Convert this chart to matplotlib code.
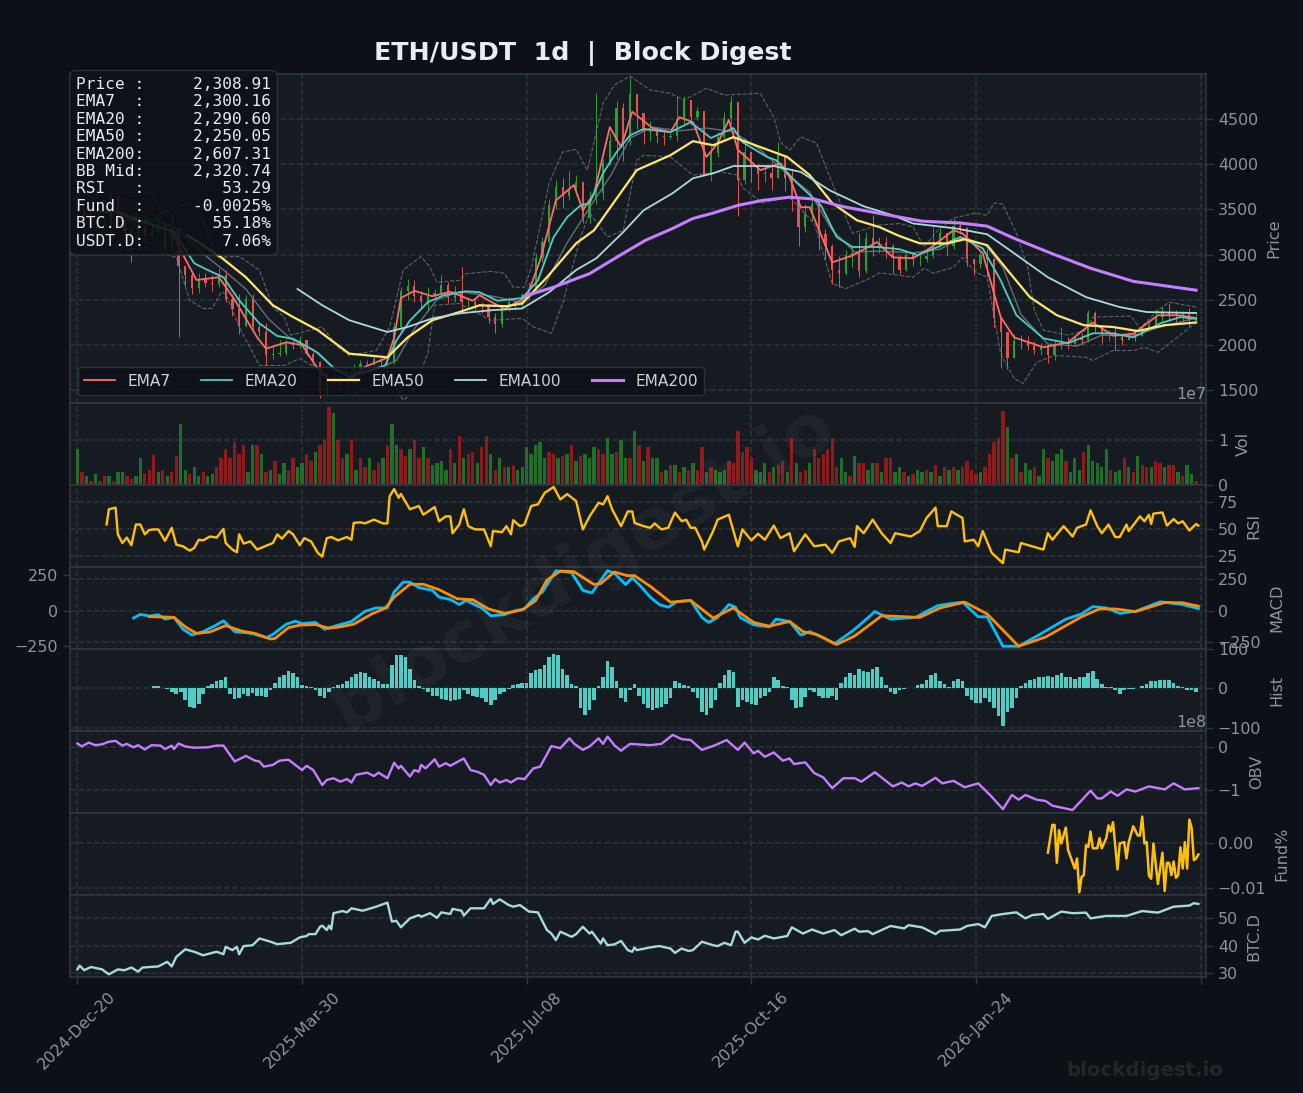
"""
ETH/USDT daily indicator panel, values read off the reference chart
"""
import matplotlib
matplotlib.use('Agg')
import matplotlib.pyplot as plt

tick_idx = [0, 100, 200, 300, 400, 500]
tick_labels = ['2024-Dec-20', '2025-Mar-30', '2025-Jul-08', '2025-Oct-16', '2026-Jan-24', '']

# candles every third day, in dollars
closes = [3480, 3420, 3330, 3350, 3350, 3650, 3380, 3260, 3140, 3310,
          3220, 3240, 3320, 3080, 3300, 2880, 2780, 2630, 2730, 2690,
          2680, 2780, 2510, 2400, 2215, 2510, 2200, 2140, 1890, 1900,
          1910, 2010, 2000, 2060, 1905, 1810, 1470, 1640, 1620, 1590,
          1590, 1755, 1790, 1800, 1845, 1810, 1810, 2200, 2600, 2650,
          2540, 2480, 2540, 2580, 2660, 2520, 2600, 2480, 2480, 2440,
          2430, 2310, 2230, 2410, 2480, 2440, 2550, 2620, 2960, 3140,
          3550, 3750, 3650, 3710, 3800, 3400, 3600, 3680, 4010, 4260,
          4620, 4250, 4780, 4570, 4360, 4390, 4310, 4300, 4310, 4500,
          4710, 4520, 4590, 3880, 4120, 4300, 4510, 4690, 3830, 4130,
          3990, 3890, 3900, 3850, 4100, 3850, 3600, 3310, 3450, 3560,
          3230, 3100, 2830, 2800, 3000, 3020, 2820, 3180, 3100, 3130,
          3100, 2960, 2830, 3000, 2950, 2950, 2980, 3100, 3240, 3100,
          3320, 3300, 2950, 2900, 3000, 2950, 2300, 2150, 1860, 2050,
          2040, 1990, 1950, 1980, 1890, 2000, 2020, 2010, 2080, 2060,
          2350, 2200, 2120, 2150, 2090, 2060, 2120, 2100, 2190, 2220,
          2310, 2350, 2330, 2320, 2340, 2270, 2309]
highs = [3720, 3540, 3500, 3450, 3430, 3680, 3740, 3340, 3290, 3450,
         3430, 3340, 3420, 3350, 3440, 3240, 2850, 2800, 2800, 2800,
         2780, 2850, 2830, 2560, 2560, 2550, 2560, 2260, 2240, 1980,
         2060, 2060, 2060, 2100, 2050, 1920, 1820, 1690, 1680, 1660,
         1620, 1790, 1830, 1840, 1880, 1860, 1830, 2250, 2640, 2730,
         2720, 2600, 2640, 2620, 2780, 2700, 2650, 2860, 2520, 2510,
         2480, 2450, 2350, 2440, 2530, 2500, 2580, 2700, 3020, 3200,
         3620, 3830, 3850, 3930, 3880, 3800, 3700, 4790, 4060, 4350,
         4700, 4680, 4960, 4640, 4490, 4480, 4400, 4380, 4350, 4760,
         4760, 4690, 4630, 4480, 4200, 4360, 4580, 4760, 4400, 4290,
         4100, 4010, 3980, 4030, 4250, 4100, 3950, 3620, 3560, 3640,
         3600, 3280, 3120, 2980, 3050, 3090, 3240, 3250, 3440, 3200,
         3200, 3120, 3000, 3030, 3020, 3010, 3040, 3310, 3300, 3230,
         3410, 3370, 3310, 2950, 3030, 3060, 2960, 2320, 2150, 2120,
         2110, 2100, 2040, 2020, 2010, 2060, 2200, 2090, 2110, 2130,
         2390, 2380, 2190, 2170, 2190, 2120, 2150, 2170, 2210, 2260,
         2400, 2420, 2470, 2390, 2380, 2410, 2340]
lows = [3400, 3300, 3280, 3280, 3320, 3340, 3340, 3220, 2920, 3140,
        3140, 3180, 3250, 3020, 3050, 2090, 2650, 2560, 2580, 2640,
        2600, 2640, 2480, 2320, 2120, 2200, 2170, 2100, 1780, 1850,
        1880, 1890, 1960, 1970, 1880, 1780, 1410, 1460, 1570, 1560,
        1540, 1570, 1740, 1770, 1780, 1770, 1770, 1790, 2150, 2500,
        2480, 2400, 2380, 2500, 2550, 2470, 2480, 2380, 2420, 2390,
        2350, 2240, 2130, 2200, 2380, 2400, 2420, 2500, 2600, 2920,
        3120, 3500, 3520, 3600, 3660, 3350, 3350, 3560, 3600, 3990,
        4060, 4040, 4210, 4390, 4220, 4260, 4230, 4210, 4280, 4260,
        4450, 4430, 4490, 3980, 3820, 4080, 4280, 4450, 3430, 3780,
        3800, 3720, 3800, 3720, 3850, 3700, 3480, 3100, 3250, 3370,
        3050, 2950, 2680, 2640, 2780, 2860, 2750, 2800, 2990, 3020,
        2960, 2790, 2790, 2820, 2880, 2880, 2920, 2960, 3080, 3000,
        3060, 3230, 2880, 2780, 2850, 2760, 2200, 1750, 1740, 1860,
        1960, 1940, 1900, 1890, 1800, 1830, 1960, 1960, 1990, 2000,
        2030, 2150, 2020, 2050, 1950, 2000, 2070, 2050, 2100, 2170,
        2240, 2270, 2270, 2250, 2270, 2210, 2290]

# (day index, value)
ema7 = [(6, 3480), (19, 3470), (31, 3350), (42, 3260), (47, 3000), (53, 2720), (63, 2750), (70, 2500),
        (80, 2085), (84, 1960), (93, 2030), (100, 2000), (106, 1775), (112, 1620), (120, 1610), (128, 1760),
        (138, 1860), (141, 2080), (144, 2520), (150, 2600), (158, 2540), (166, 2590), (176, 2490), (179, 2550),
        (183, 2495), (190, 2400), (200, 2530), (206, 2940), (213, 3600), (221, 3770), (225, 3490), (230, 3680),
        (237, 4410), (242, 4190), (247, 4580), (256, 4400), (264, 4355), (268, 4520), (274, 4465), (280, 4080),
        (285, 4230), (290, 4490), (294, 4160), (304, 3935), (313, 4010), (317, 3860), (322, 3525), (326, 3525),
        (336, 2915), (345, 2990), (356, 3140), (363, 2970), (372, 2960), (380, 3080), (390, 3270), (394, 3235),
        (403, 3015), (411, 2310), (417, 2085), (430, 1975), (441, 2030), (452, 2250), (461, 2105), (470, 2125),
        (481, 2330), (490, 2330), (498, 2300)]
ema20 = [(19, 3440), (31, 3350), (43, 3250), (52, 2905), (58, 2830), (65, 2750), (72, 2495), (81, 2240),
         (89, 2100), (96, 2070), (107, 1915), (114, 1750), (121, 1650), (130, 1720), (137, 1775), (142, 2050),
         (148, 2270), (156, 2475), (163, 2550), (173, 2595), (179, 2585), (187, 2490), (198, 2520), (205, 2715),
         (212, 3195), (218, 3415), (224, 3545), (228, 3570), (234, 3900), (240, 4135), (246, 4320), (252, 4390),
         (264, 4355), (273, 4465), (282, 4290), (292, 4400), (296, 4245), (307, 4080), (311, 4045), (320, 3800),
         (331, 3545), (338, 3195), (345, 3085), (356, 3085), (366, 3060), (374, 2995), (383, 3085), (393, 3195),
         (403, 3070), (411, 2715), (418, 2330), (430, 2075), (441, 2020), (452, 2130), (461, 2130), (470, 2085),
         (482, 2240), (491, 2310), (498, 2290)]
ema50 = [(49, 3215), (64, 2970), (75, 2750), (87, 2440), (96, 2310), (107, 2165), (121, 1905), (138, 1865),
         (147, 2085), (158, 2275), (170, 2365), (179, 2440), (191, 2430), (198, 2460), (209, 2750), (222, 3125),
         (230, 3270), (242, 3690), (249, 3935), (264, 4100), (274, 4255), (283, 4210), (292, 4300), (304, 4190),
         (316, 4080), (326, 3880), (336, 3570), (347, 3380), (357, 3305), (366, 3205), (375, 3125), (387, 3125),
         (395, 3170), (405, 3105), (414, 2830), (424, 2530), (436, 2330), (448, 2220), (461, 2200), (472, 2155),
         (484, 2220), (498, 2250)]
ema100 = [(98, 2620), (109, 2440), (121, 2275), (138, 2145), (147, 2200), (158, 2295), (170, 2350), (184, 2385),
          (198, 2405), (210, 2585), (222, 2830), (231, 2960), (243, 3250), (252, 3490), (265, 3680), (274, 3845),
          (283, 3900), (292, 3980), (310, 3980), (322, 3915), (335, 3710), (350, 3535), (363, 3435), (372, 3345),
          (391, 3290), (405, 3225), (417, 3015), (432, 2750), (449, 2530), (464, 2420), (476, 2365), (498, 2355)]
ema200 = [(199, 2540), (212, 2640), (228, 2790), (243, 3015), (253, 3160), (265, 3290), (274, 3400), (283, 3460),
          (294, 3545), (305, 3600), (317, 3635), (328, 3615), (340, 3535), (354, 3470), (366, 3415), (376, 3370),
          (393, 3350), (405, 3315), (417, 3180), (435, 3000), (451, 2850), (470, 2705), (498, 2607)]
bb_upper = [(19, 3690), (34, 3680), (37, 3460), (49, 3570), (56, 3380), (62, 2970), (72, 2980), (81, 2830),
            (87, 2420), (92, 2310), (95, 2110), (109, 2200), (116, 1975), (121, 1885), (133, 1940), (139, 2200),
            (145, 2830), (153, 2980), (157, 2860), (160, 2695), (170, 2715), (173, 2790), (184, 2815), (190, 2795),
            (194, 2640), (199, 2640), (202, 2850), (210, 3790), (216, 4135), (222, 4165), (227, 3935), (234, 4675),
            (239, 4875), (246, 4975), (255, 4820), (264, 4785), (270, 4710), (280, 4840), (288, 4765), (304, 4785),
            (310, 4520), (313, 4245), (317, 4155), (322, 4300), (329, 4235), (336, 3790), (345, 3235), (356, 3325),
            (366, 3345), (372, 3305), (377, 3085), (383, 3270), (390, 3405), (400, 3460), (405, 3435), (408, 3570),
            (412, 3560), (418, 3235), (423, 2860), (426, 2385), (430, 2165), (441, 2110), (449, 2165), (452, 2310),
            (469, 2320), (473, 2185), (481, 2385), (486, 2475), (498, 2420)]
bb_lower = [(19, 3050), (30, 3080), (44, 2970), (50, 2495), (56, 2405), (60, 2405), (64, 2585), (66, 2570),
            (72, 2200), (81, 1775), (92, 1775), (99, 1850), (107, 1740), (111, 1445), (121, 1445), (130, 1520),
            (137, 1755), (145, 1390), (149, 1465), (156, 1910), (159, 2440), (170, 2460), (184, 2275), (198, 2295),
            (203, 2200), (211, 2130), (216, 2460), (224, 3195), (228, 3460), (236, 3195), (243, 3270), (249, 4045),
            (252, 4100), (264, 4080), (274, 3880), (286, 3915), (294, 3880), (296, 3745), (305, 3570), (317, 3635),
            (328, 3345), (336, 2680), (342, 2625), (353, 2740), (357, 2800), (372, 2750), (377, 2850), (381, 2795),
            (390, 2860), (394, 2970), (400, 2805), (405, 2750), (411, 1905), (417, 1630), (421, 1575), (427, 1810),
            (435, 1885), (449, 1865), (452, 1830), (461, 1940), (470, 1940), (475, 1975), (481, 1920), (488, 2055),
            (498, 2250)]
bb_mid = [(19, 3370), (35, 3380), (45, 3280), (55, 3030), (65, 2830), (75, 2620), (85, 2290), (95, 2070),
          (105, 1950), (115, 1720), (125, 1680), (135, 1750), (142, 1830), (150, 2180), (160, 2500), (170, 2590),
          (185, 2540), (198, 2470), (208, 2660), (218, 3130), (228, 3520), (238, 3900), (246, 4290), (256, 4410),
          (268, 4370), (280, 4400), (292, 4360), (304, 4160), (316, 3890), (326, 3690), (336, 3270), (346, 3030),
          (358, 3040), (372, 3020), (384, 3060), (394, 3190), (404, 3110), (412, 2860), (420, 2340), (432, 2010),
          (445, 1990), (456, 2110), (470, 2100), (482, 2200), (498, 2300)]

# volume every second day, in units of 1e7
volume = [0.8, 0.3, 0.2, 0.1, 0.25, 0.1, 0.2, 0.2, 0.1, 0.3,
          0.3, 0.2, 0.15, 0.2, 0.6, 0.25, 0.35, 0.67, 0.3, 0.35,
          0.2, 0.3, 0.65, 1.35, 0.35, 0.25, 0.4, 0.2, 0.3, 0.2,
          0.25, 0.4, 0.6, 0.8, 0.6, 0.95, 0.7, 0.9, 0.3, 0.9,
          0.9, 0.7, 0.3, 0.35, 0.55, 0.25, 0.5, 0.35, 0.6, 0.4,
          0.5, 0.7, 0.55, 0.75, 0.9, 1.0, 1.73, 1.6, 1.0, 0.6,
          0.7, 1.0, 0.35, 0.6, 0.4, 0.6, 0.35, 0.5, 0.6, 0.9,
          1.35, 0.9, 0.8, 0.65, 0.8, 1.0, 0.6, 0.85, 0.6, 0.45,
          0.5, 0.55, 0.35, 0.8, 0.5, 1.1, 0.6, 0.7, 0.75, 0.5,
          0.85, 1.1, 0.7, 0.35, 0.6, 0.4, 0.4, 0.45, 0.35, 0.4,
          0.85, 0.7, 0.9, 0.95, 0.6, 0.75, 0.7, 0.6, 0.65, 0.7,
          0.9, 0.55, 0.65, 0.7, 0.6, 0.85, 0.8, 0.7, 1.05, 0.7,
          0.75, 1.0, 0.6, 0.6, 1.2, 0.9, 0.55, 0.85,
          0.6, 0.6, 0.3, 0.35, 0.45, 0.45, 0.3, 0.4, 0.35, 0.5,
          0.35, 0.85, 0.3, 0.4, 0.35, 0.3, 0.35, 0.55, 0.5, 1.2,
          0.75, 0.85, 0.6, 0.35, 0.3, 0.5, 0.3, 0.4, 0.45, 0.55,
          0.3, 1.05, 0.5, 0.3, 0.35, 0.5, 0.8, 0.6, 0.7, 0.8,
          1.05, 0.4, 0.6, 0.3, 0.2, 0.65, 0.5, 0.5, 0.35, 0.5,
          0.5, 0.3, 0.6, 0.6, 0.3, 0.4, 0.3, 0.2, 0.25, 0.35,
          0.3, 0.35, 0.3, 0.45, 0.2, 0.4, 0.35, 0.4, 0.35, 0.4,
          0.55, 0.35, 0.25, 0.3, 0.4, 0.7, 0.95, 1.05, 1.65, 1.3,
          0.6, 0.7, 0.3, 0.5, 0.35, 0.4, 0.2, 0.8, 0.6, 0.55,
          0.7, 0.8, 0.55, 0.3, 0.6, 0.35, 0.75, 0.9, 0.55, 0.5,
          0.4, 0.8, 0.35, 0.3, 0.35, 0.6, 0.4, 0.3, 0.65, 0.45,
          0.4, 0.4, 0.55, 0.5, 0.4, 0.45, 0.45, 0.3, 0.2, 0.45,
          0.25, 0.1]
volume_dir = ('grgrgrrgrg' 'grrggrrrgr' 'grrggrggrg' 'grrrrrrrgg' 'rgrgrggrrg'
              'grrgrrrgrr' 'grgrrgrrgr' 'ggrrgrrgrg' 'gggrgrgrrg' 'rrgrgrgrgg'
              'gggggrrgrg' 'rgrgggrrgg' 'rggrgrgr' 'ggrgrgrgrg' 'rrgrgggrrr'
              'rrrgggrgrr' 'grgrrgrrrr' 'rrggrgrrgg' 'rgrrggrgrg' 'grgrgrgrgr'
              'rrrgrrrrrg' 'rgrggrggrg' 'ggrgggrggg' 'ggrggrgrgr' 'rgrrgrrgrg'
              'gr')

rsi = [(13, 54), (14, 68), (17, 69.5), (18, 45), (20, 37), (22, 42), (24, 35), (26, 54), (28, 54), (30, 45),
       (32, 49), (34, 49.5), (36, 49.5), (39, 39), (42, 51), (44, 35.5), (47, 34), (50, 30), (52, 32.5), (54, 40),
       (56, 39.5), (59, 43), (62, 42), (65, 50), (66, 37), (69, 31), (71, 28.5), (72, 45), (74, 36.5), (77, 38.5),
       (80, 31), (84, 34.5), (87, 37), (89, 45), (91, 41), (94, 48), (96, 45), (99, 35), (101, 41.5), (104, 38.5),
       (107, 28), (109, 24.5), (111, 41.5), (113, 42.5), (116, 39.5), (120, 42.5), (122, 40), (123, 55.5), (126, 56),
       (128, 55), (132, 58.5), (136, 55), (138, 55), (139, 80), (141, 86.5), (143, 78.5), (144, 82), (148, 68),
       (152, 71), (154, 63), (159, 70), (161, 57), (164, 61.5), (166, 61.5), (167, 46), (170, 54), (172, 68),
       (174, 52.5), (177, 49.5), (181, 49.5), (184, 34), (185, 48), (189, 47), (191, 52.5), (193, 45), (194, 58),
       (197, 52.5), (199, 54), (202, 71), (205, 72.5), (208, 83), (212, 88.5), (215, 77), (218, 82), (222, 75.5),
       (225, 49.5), (228, 61.5), (232, 74), (234, 72.5), (236, 80), (238, 68), (242, 52.5), (245, 66), (247, 66),
       (248, 55.5), (252, 52.5), (255, 51), (257, 55), (260, 49.5), (263, 51), (266, 65), (269, 57), (271, 58.5),
       (273, 51), (275, 51), (278, 38.5), (279, 31), (283, 48), (285, 58.5), (290, 63), (291, 55.5), (294, 34),
       (296, 49.5), (300, 39.5), (303, 45.5), (306, 40), (310, 53), (313, 41.5), (317, 46), (319, 29.5), (324, 45),
       (328, 34), (333, 35.5), (336, 28), (339, 38.5), (344, 41.5), (346, 33.5), (347, 52.5), (350, 46), (354, 58.5),
       (358, 46), (362, 37), (364, 46), (371, 43), (375, 48), (378, 60), (382, 69.5), (383, 52.5), (387, 52.5),
       (389, 66), (394, 60), (395, 38.5), (399, 40), (401, 34), (403, 48), (407, 28), (412, 18.5), (413, 31),
       (419, 28.5), (420, 37), (430, 31), (432, 46), (434, 40), (439, 52.5), (443, 43), (445, 51), (449, 54),
       (451, 67), (454, 52.5), (456, 46), (459, 54), (462, 42.5), (464, 42.5), (467, 54), (468, 48), (473, 61.5),
       (475, 57), (477, 63), (478, 54.5), (479, 64), (483, 65), (485, 53), (488, 59), (490, 55), (492, 57),
       (495, 48.5), (498, 54.5), (499, 53)]

macd_line = [(25, -56), (28, -27), (32, -40), (36, -30), (39, -65), (43, -51), (47, -145), (51, -191), (56, -164),
             (62, -110), (65, -78), (70, -164), (75, -172), (78, -180), (84, -212), (87, -186), (93, -105), (97, -81),
             (100, -100), (106, -91), (110, -145), (115, -118), (122, -83), (128, -3), (133, 24), (138, 24), (141, 151),
             (145, 229), (148, 229), (152, 186), (158, 164), (161, 110), (166, 91), (170, 51), (173, 83), (180, 24),
             (184, -38), (190, -30), (195, 3), (199, 16), (203, 97), (207, 151), (213, 320), (220, 304), (225, 164),
             (229, 143), (236, 320), (239, 299), (244, 210), (247, 264), (251, 191), (255, 110), (259, 51), (263, 30),
             (267, 75), (273, 83), (278, -51), (281, -91), (285, -51), (290, 51), (293, 30), (295, -51), (301, -110),
             (308, -126), (311, -65), (317, -83), (322, -191), (326, -164), (332, -212), (337, -261), (345, -159),
             (349, -100), (355, -5), (362, -65), (373, -51), (383, 43), (388, 56), (394, 70), (401, -46), (405, -46),
             (412, -280), (419, -280), (429, -180), (440, -65), (447, -24), (452, 35), (458, 24), (464, -19), (471, -3),
             (482, 73), (492, 51), (499, 19)]
macd_signal = [(32, -46), (39, -48), (43, -51), (48, -126), (53, -178), (59, -167), (66, -116), (73, -159), (79, -178),
               (86, -223), (88, -218), (94, -132), (99, -113), (106, -108), (112, -137), (117, -126), (123, -105),
               (131, -24), (137, 22), (141, 110), (148, 212), (154, 212), (161, 169), (169, 97), (176, 89), (183, 16),
               (190, -19), (198, 8), (204, 83), (209, 245), (215, 317), (221, 312), (230, 210), (233, 218), (239, 309),
               (245, 280), (248, 280), (255, 196), (264, 70), (273, 83), (283, -56), (292, 24), (301, -91), (308, -121),
               (317, -83), (323, -164), (329, -186), (338, -266), (346, -199), (358, -38), (375, -51), (384, 24),
               (395, 70), (405, -24), (419, -280), (431, -207), (447, -46), (455, 16), (462, 16), (471, -5), (484, 67),
               (492, 65), (499, 38)]

# histogram every second day from day 32
macd_hist = [2, 5, 6, 2, -2, -10, -15, -10, -30, -48, -50, -40, -15, 5, 12, 18, 22, 28, -15, -28,
             -25, -15, -18, -12, -20, -20, -22, -5, 15, 28, 35, 43, 38, 28, 8, 6, 4, -4, -18, -24,
             -10, 3, 8, 12, 18, 28, 36, 42, 38, 28, 25, 20, 12, 10, 60, 85, 85, 80, 50, 22,
             5, -2, -10, -20, -18, -28, -30, -32, -30, -28, -3, -15, -18, -22, -25, -35, -42, -30, -15, -8,
             -2, 8, 12, 15, 15, 40, 48, 50, 60, 80, 88, 85, 50, 35, 12, 5, -50, -68, -55, -30,
             5, 30, 70, 55, 20, -25, -35, -5, 10, -20, -40, -50,
             -55, -50, -48, -40, -25, 18, 15, 8, 5, -8, -25, -60, -68, -50, -30, 15, 35, 48, 42,
             -47, -30, -35, -40, -42, -25, -18, -10, 28, 22, 6, 3, -30, -50, -48, -22, -5, -8, -18, -25,
             -25, -18, -30, 15, 30, 38, 35, 50, 45, 42, 50, 55, 30, 8, -8, -15, -5, -2, 2, 2,
             8, 12, 22, 35, 40, 20, 10, 3, 20, 25, 20, -20, -30, -38, -38, -25, -35, -50, -70, -95,
             -60, -50, -25, 5, 15, 22, 25, 28, 30, 32, 30, 35, 38, 30, 28, 25, 28, 30, 38, 45,
             25, 10, 3, 3, -5, -15, -5, -2, -1, 1, 5, 12, 18, 20, 22, 22, 22, 15, 5, 3,
             -3, -5, -10]

# on balance volume, in units of 1e8
obv = [(0, 0.09), (2, 0.02), (5, 0.11), (8, 0.05), (11, 0.07), (14, 0.13), (17, 0.15), (20, 0.04), (22, 0.08), (25, 0),
       (27, 0.05), (30, -0.05), (33, 0.05), (37, 0.04), (39, -0.04), (42, 0.04), (43, -0.04), (45, 0.09), (48, 0.02),
       (52, -0.01), (58, 0), (62, 0.04), (65, 0.04), (70, -0.33), (75, -0.2), (79, -0.31), (81, -0.33), (83, -0.45),
       (87, -0.41), (90, -0.31), (94, -0.29), (100, -0.53), (102, -0.43), (105, -0.53), (109, -0.88), (111, -0.76),
       (114, -0.72), (117, -0.8), (120, -0.74), (122, -0.82), (124, -0.64), (129, -0.59), (132, -0.67), (134, -0.59),
       (138, -0.72), (141, -0.36), (143, -0.49), (144, -0.43), (148, -0.68), (150, -0.53), (152, -0.57), (153, -0.41),
       (155, -0.49), (159, -0.28), (161, -0.45), (164, -0.37), (166, -0.43), (172, -0.26), (175, -0.53), (178, -0.57),
       (181, -0.64), (184, -0.88), (186, -0.74), (188, -0.82), (191, -0.76), (193, -0.82), (196, -0.72), (199, -0.74),
       (203, -0.49), (206, -0.45), (211, 0.03), (215, -0.02), (219, 0.21), (221, 0.09), (225, -0.06), (228, 0.02),
       (232, 0.21), (234, 0.08), (236, 0.25), (239, 0.05), (242, -0.08), (246, 0.08), (255, 0.05), (260, 0.08),
       (265, 0.29), (269, 0.19), (273, 0.17), (278, -0.06), (284, 0.05), (289, 0.17), (294, -0.06), (297, 0.11),
       (301, -0.14), (303, -0.08), (306, -0.22), (310, -0.12), (314, -0.31), (317, -0.26), (319, -0.39), (324, -0.35),
       (328, -0.6), (332, -0.7), (336, -0.95), (341, -0.72), (346, -0.72), (349, -0.8), (355, -0.58), (363, -0.91),
       (367, -0.82), (370, -0.91), (373, -0.84), (376, -0.9), (382, -0.71), (385, -0.84), (390, -0.78), (395, -0.93),
       (401, -0.84), (407, -1.15), (412, -1.44), (416, -1.11), (419, -1.22), (422, -1.11), (427, -1.22), (431, -1.25),
       (434, -1.36), (443, -1.46), (451, -1.01), (454, -1.19), (456, -1.19), (460, -1.03), (463, -1.13), (467, -0.98),
       (471, -1.03), (477, -0.91), (484, -0.98), (488, -0.84), (493, -0.98), (499, -0.95)]

funding = [(432, -0.0021), (434, 0.0042), (435, 0.0042), (436, -0.0044), (437, 0.0030), (438, 0), (440, 0.0036),
           (441, -0.0015), (444, -0.0057), (445, -0.0034), (446, -0.0111), (447, -0.0076), (448, -0.0072),
           (449, -0.0004), (450, -0.0008), (451, 0.0027), (452, -0.0011), (454, -0.0011), (455, 0.0012), (456, -0.0011),
           (458, 0.0012), (459, 0.0041), (460, 0.0027), (461, 0.0048), (463, -0.0059), (464, 0), (466, 0.0003),
           (467, -0.0034), (468, 0.0003), (470, 0.0039), (472, 0.0018), (473, 0.0018), (474, 0.0061), (475, 0),
           (476, 0.0003), (477, -0.0073), (478, -0.008), (479, 0), (481, -0.0092), (483, -0.0021), (484, -0.0108),
           (485, -0.0044), (486, -0.0044), (487, -0.0072), (488, -0.0041), (489, -0.0078), (490, -0.0072),
           (491, -0.0009), (492, -0.0057), (493, 0.0003), (494, -0.0057), (495, 0.0054), (496, 0.0035), (497, -0.0038),
           (498, -0.0034), (499, -0.0025)]

btc_dom = [(0, 31.2), (1, 32.6), (3, 30.9), (6, 32.1), (11, 31.2), (14, 29.4), (18, 31.2), (21, 30.9), (24, 31.9),
           (27, 30.4), (29, 31.9), (36, 32.3), (40, 34), (42, 32.3), (44, 35.8), (48, 38.6), (52, 37.7), (56, 36.4),
           (60, 37.3), (62, 37.7), (65, 36.8), (66, 39.5), (69, 38.3), (71, 39.5), (72, 36.8), (74, 39.8), (78, 40.1),
           (81, 42.6), (86, 41.4), (89, 40.5), (95, 41), (99, 43), (102, 43.5), (103, 44.2), (106, 44.2), (108, 46.9),
           (109, 47.3), (111, 45.7), (112, 47.3), (113, 46), (114, 51.9), (118, 52.7), (120, 52.2), (122, 53.7),
           (127, 52.8), (133, 54.3), (138, 55.8), (140, 48.8), (142, 49.1), (144, 46.7), (148, 50), (152, 51.2),
           (153, 50.6), (157, 51.9), (160, 50.2), (162, 52.2), (166, 51.6), (167, 53.5), (171, 52.8), (172, 51),
           (175, 53.7), (181, 53.7), (184, 57.2), (185, 55.3), (188, 57), (192, 54.9), (194, 54.3), (197, 54.9),
           (201, 52.5), (205, 52.2), (209, 45.7), (211, 44.4), (213, 42), (215, 45.1), (220, 43.2), (222, 44.2),
           (225, 46.9), (228, 44.4), (229, 45.1), (233, 40.7), (234, 42.6), (236, 40.1), (239, 40.4), (242, 41.7),
           (245, 38.3), (247, 37.7), (248, 39.3), (249, 38.3), (255, 39.3), (259, 39.8), (264, 38.9), (266, 37.3),
           (269, 38.9), (272, 38), (274, 38.3), (278, 41.4), (283, 40.1), (285, 39.8), (288, 41), (291, 40.1),
           (293, 45.1), (294, 45.1), (297, 41), (300, 43), (303, 42.2), (306, 43.6), (310, 42.6), (316, 43.5),
           (318, 46.7), (323, 44.4), (327, 45.9), (332, 44.4), (337, 45.7), (340, 43.8), (346, 46.2), (348, 45.1),
           (352, 45.3), (354, 44.2), (362, 47.2), (368, 46.3), (370, 47.5), (376, 46.7), (382, 44.2), (384, 45.4),
           (393, 45.9), (396, 47.2), (401, 47.9), (404, 46.7), (407, 50.9), (412, 51.6), (418, 52.2), (422, 50),
           (425, 51.2), (430, 51.6), (432, 49.8), (438, 52.5), (443, 51.9), (449, 52.1), (451, 50), (458, 50.9),
           (467, 50.9), (474, 52.7), (481, 52.1), (488, 54.3), (495, 54.7), (497, 55.6), (499, 55.3)]

info_text = """Price :     2,308.91
EMA7  :     2,300.16
EMA20 :     2,290.60
EMA50 :     2,250.05
EMA200:     2,607.31
BB Mid:     2,320.74
RSI   :        53.29
Fund  :     -0.0025%
BTC.D :       55.18%
USDT.D:        7.06%"""

FIG_BG = '#0d1117'
AX_BG = '#161b22'
EDGE = '#30363d'
MUTED = '#8b949e'


def xy(points):
    return [p[0] for p in points], [p[1] for p in points]


fig = plt.figure(figsize=(13.03, 10.93), dpi=100, facecolor=FIG_BG)
gs = fig.add_gridspec(8, 1, height_ratios=[329.3, 82, 81.7, 82, 82, 82, 82, 82.3], hspace=0,
                      left=70 / 1303, right=1206 / 1303, top=1 - 74 / 1093, bottom=1 - 977.3 / 1093)
axes = [fig.add_subplot(gs[0])]
for n in range(1, 8):
    axes.append(fig.add_subplot(gs[n], sharex=axes[0]))
ax_price, ax_vol, ax_rsi, ax_macd, ax_hist, ax_obv, ax_fund, ax_btc = axes

panel_labels = ['Price', 'Vol', 'RSI', 'MACD', 'Hist', 'OBV', 'Fund%', 'BTC.D']
for ax, name in zip(axes, panel_labels):
    ax.set_facecolor(AX_BG)
    for spine in ax.spines.values():
        spine.set_color(EDGE)
        spine.set_linewidth(1.2)
    ax.yaxis.tick_right()
    ax.yaxis.set_label_position('right')
    ax.set_ylabel(name, color=MUTED, fontsize=11.6, labelpad=6)
    ax.tick_params(axis='both', colors=MUTED, labelsize=11.4, length=5, width=1, color=EDGE)
    ax.grid(True, color=EDGE, linestyle='--', linewidth=1.1, alpha=0.9)
    ax.set_axisbelow(True)
    ax.yaxis.get_offset_text().set_color(MUTED)
    ax.yaxis.get_offset_text().set_fontsize(11.4)
    if ax is not ax_btc:
        ax.tick_params(axis='x', labelbottom=False, length=0)

# Price panel
for n, (hi, lo, close) in enumerate(zip(highs, lows, closes)):
    day = n * 3
    prev = closes[n - 1] if n > 0 else close
    color = '#2ca02c' if close >= prev else '#e5534b'
    ax_price.vlines(day, lo, hi, color=color, linewidth=0.7, zorder=2)
    ax_price.bar(day, abs(close - prev), bottom=min(close, prev), width=1.0, color=color, zorder=2)

for band in (bb_upper, bb_lower):
    ax_price.plot(*xy(band), color='#6e7681', linewidth=0.8, linestyle='--', alpha=0.8, zorder=3)
ax_price.plot(*xy(bb_mid), color='#6e7681', linewidth=1.0, alpha=0.9, zorder=3)
ax_price.plot(*xy(ema7), color='#ff6b6b', linewidth=1.3, label='EMA7', zorder=4)
ax_price.plot(*xy(ema20), color='#4ecdc4', linewidth=1.3, label='EMA20', zorder=4)
ax_price.plot(*xy(ema50), color='#ffe66d', linewidth=1.6, label='EMA50', zorder=4)
ax_price.plot(*xy(ema100), color='#a8dadc', linewidth=1.3, label='EMA100', zorder=4)
ax_price.plot(*xy(ema200), color='#c77dff', linewidth=2.2, label='EMA200', zorder=4)
ax_price.set_ylim(1356, 4998)
ax_price.set_yticks([1500, 2000, 2500, 3000, 3500, 4000, 4500])
legend = ax_price.legend(loc='lower left', ncol=5, fontsize=11.1, facecolor='#0d1117', edgecolor=EDGE,
                         framealpha=0.85, labelcolor='#c9d1d9', bbox_to_anchor=(0.0071, 0.026),
                         borderaxespad=0, columnspacing=2.0)
legend.set_zorder(6)

# Volume
vol_x = [n * 2 for n in range(len(volume))]
vol_colors = ['#1f6f2b' if d == 'g' else '#8e1b1b' for d in volume_dir]
ax_vol.bar(vol_x, [v * 1e7 for v in volume], width=1.5, color=vol_colors, zorder=2)
ax_vol.set_ylim(0, 1.82e7)
ax_vol.set_yticks([0, 1e7])

# RSI
ax_rsi.plot(*xy(rsi), color='#ffc107', linewidth=1.7)
ax_rsi.set_ylim(15, 90)
ax_rsi.set_yticks([25, 50, 75])

# MACD lines, with a second scale on the left
ax_macd.plot(*xy(macd_line), color='#00bfff', linewidth=2.0)
ax_macd.plot(*xy(macd_signal), color='#ff8c00', linewidth=2.0)
ax_macd.set_ylim(-302, 349)
ax_macd.set_yticks([-250, 0, 250])
ax_macd_left = ax_macd.twinx()
ax_macd.yaxis.tick_right()  # twinx moves the host ticks to the left
ax_macd.yaxis.set_label_position('right')
ax_macd_left.yaxis.tick_left()
ax_macd_left.set_ylim(-274, 310)
ax_macd_left.set_yticks([-250, 0, 250])
ax_macd_left.tick_params(axis='y', colors=MUTED, labelsize=11.4, length=5, width=1, color=EDGE)
for spine in ax_macd_left.spines.values():
    spine.set_visible(False)

# Histogram
hist_x = [32 + n * 2 for n in range(len(macd_hist))]
ax_hist.bar(hist_x, macd_hist, width=1.6, color='#4ecdc4', zorder=2)
ax_hist.set_ylim(-108, 98.5)
ax_hist.set_yticks([-100, 0, 100])

# OBV
obv_x, obv_y = xy(obv)
ax_obv.plot(obv_x, [v * 1e8 for v in obv_y], color='#c77dff', linewidth=1.7)
ax_obv.set_ylim(-1.53e8, 0.38e8)
ax_obv.set_yticks([-1e8, 0])

# Funding
ax_fund.plot(*xy(funding), color='#ffc107', linewidth=1.8)
ax_fund.set_ylim(-0.0117, 0.0069)
ax_fund.set_yticks([-0.01, 0])

# BTC dominance
ax_btc.plot(*xy(btc_dom), color='#a8dadc', linewidth=1.7)
ax_btc.set_ylim(28.3, 58.6)
ax_btc.set_yticks([30, 40, 50])

ax_btc.set_xlim(-3.3, 502.4)
ax_btc.set_xticks(tick_idx)
ax_btc.set_xticklabels(tick_labels, rotation=45, ha='center', fontsize=11.4, color=MUTED)

fig.text(583 / 1303, 1 - 53.5 / 1093, 'ETH/USDT  1d  |  Block Digest', color='#e6edf3', fontsize=18.2,
         fontweight='bold', ha='center', va='center')
fig.text(76 / 1303, 1 - 77 / 1093, info_text, family='DejaVu Sans Mono', fontsize=11.6, color='#e6edf3',
         ha='left', va='top', zorder=10,
         bbox=dict(boxstyle='round,pad=0.4', facecolor='#0d1117', edgecolor=EDGE, alpha=0.88))
fig.text(583 / 1303, 1 - 567 / 1093, 'blockdigest.io', color='white', alpha=0.04, fontsize=52,
         fontweight='bold', rotation=31, ha='center', va='center', zorder=9)
fig.text(1145 / 1303, 1 - 1071 / 1093, 'blockdigest.io', color='white', alpha=0.09, fontsize=14.2,
         fontweight='bold', ha='center', va='center')

fig.savefig('out.png', dpi=100, facecolor=FIG_BG)
plt.close(fig)
